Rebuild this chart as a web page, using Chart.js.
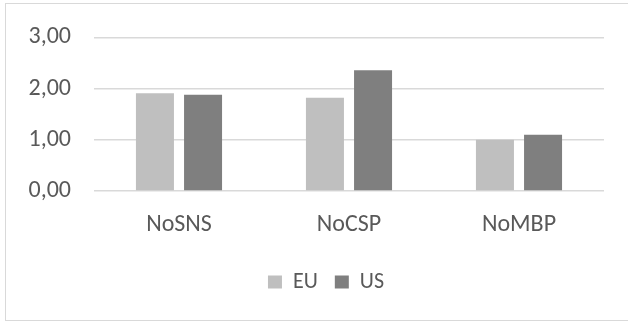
<!DOCTYPE html>
<html>
<head>
<meta charset="utf-8">
<script src="https://cdn.jsdelivr.net/npm/chart.js@4/dist/chart.umd.min.js"></script>
<style>
  html, body { margin: 0; padding: 0; background: #ffffff; overflow: hidden; }
  #wrap { position: relative; width: 628px; height: 324px; }
  #frame { position: absolute; left: 5px; top: 3px; width: 640px; height: 318px; border: 1px solid #d9d9d9; box-sizing: border-box; }
  canvas { position: absolute; left: 0; top: 0; }
</style>
</head>
<body>
<div id="wrap">
  <div id="frame"></div>
  <canvas id="c" width="628" height="324"></canvas>
</div>
<script>
// Categories and series
const categories = ['NoSNS', 'NoCSP', 'NoMBP'];
const euValues = [1.91, 1.82, 1.00];
const usValues = [1.88, 2.36, 1.10];
const yTickValues = [0, 1, 2, 3];
const yTickLabels = ['0,00', '1,00', '2,00', '3,00'];

const FONT = "Carlito, 'Open Sans', sans-serif";
const TEXT = '#595959';

// Centre the legend under the whole canvas rather than the padded box
const legendShift = {
  id: 'legendShift',
  beforeDraw(chart) {
    const lg = chart.legend;
    if (lg) { lg.left += 24; lg.right += 24; }
  }
};

new Chart(document.getElementById('c'), {
  type: 'bar',
  data: {
    labels: categories,
    datasets: [
      { label: 'EU', data: euValues, backgroundColor: '#bfbfbf', categoryPercentage: 0.566, barPercentage: 0.79 },
      { label: 'US', data: usValues, backgroundColor: '#7f7f7f', categoryPercentage: 0.566, barPercentage: 0.79 }
    ]
  },
  options: {
    responsive: false,
    animation: false,
    devicePixelRatio: 1,
    layout: { padding: { left: 0, right: 24, top: 35, bottom: 21 } },
    plugins: {
      tooltip: { enabled: false },
      legend: {
        position: 'bottom',
        labels: {
          color: TEXT,
          font: { family: FONT, size: 22 },
          boxWidth: 14,
          boxHeight: 13,
          padding: 17
        }
      }
    },
    scales: {
      x: {
        grid: { display: false, drawTicks: false },
        border: { display: false },
        ticks: { color: TEXT, font: { family: FONT, size: 24 }, padding: 20 },
        afterFit: s => { s.height = 63; }
      },
      y: {
        min: 0,
        max: 3,
        afterBuildTicks: s => { s.ticks = yTickValues.map(v => ({ value: v })); },
        grid: { color: '#d9d9d9', lineWidth: 1.4, drawTicks: false },
        border: { display: false },
        ticks: {
          color: TEXT,
          font: { family: FONT, size: 24 },
          padding: 23,
          callback: v => yTickLabels[yTickValues.indexOf(v)]
        },
        afterFit: s => { s.width = 94; }
      }
    }
  },
  plugins: [legendShift]
});
</script>
</body>
</html>
